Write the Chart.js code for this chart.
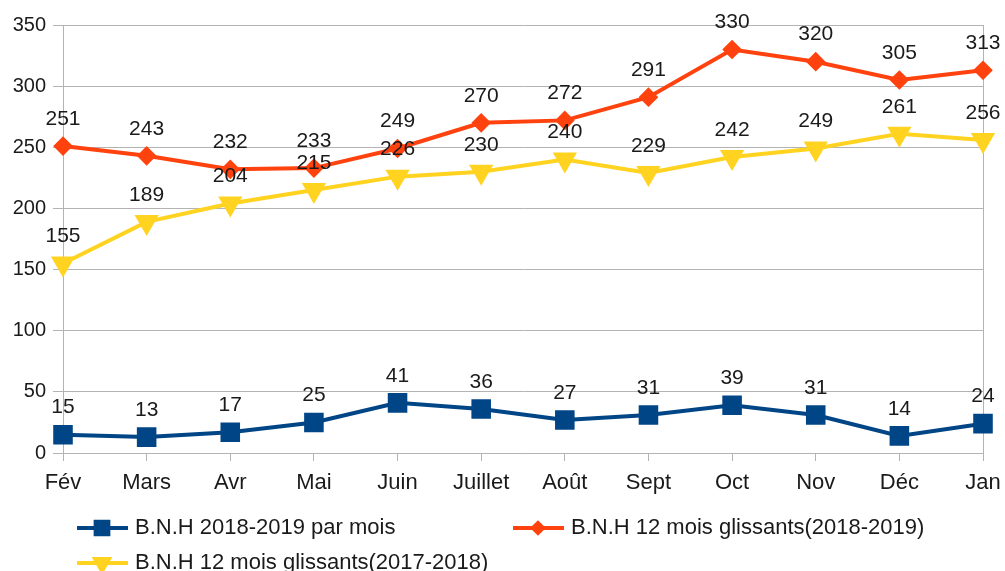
<!DOCTYPE html>
<html>
<head>
<meta charset="utf-8">
<script src="https://cdn.jsdelivr.net/npm/chart.js@4"></script>
<style>
  html, body { margin: 0; padding: 0; background: #fff; }
  #wrap { width: 1005px; height: 571px; }
</style>
</head>
<body>
<div id="wrap"><canvas id="myChart" width="1005" height="571"></canvas></div>
<script>
var months = ["Fév", "Mars", "Avr", "Mai", "Juin", "Juillet", "Août", "Sept", "Oct", "Nov", "Déc", "Jan"];
var bnhParMois = [15, 13, 17, 25, 41, 36, 27, 31, 39, 31, 14, 24];
var glissants1819 = [251, 243, 232, 233, 249, 270, 272, 291, 330, 320, 305, 313];
var glissants1718 = [155, 189, 204, 215, 226, 230, 240, 229, 242, 249, 261, 256];
var seriesNames = ["B.N.H 2018-2019 par mois", "B.N.H 12 mois glissants(2018-2019)", "B.N.H 12 mois glissants(2017-2018)"];

var FONT = "'Liberation Sans', Arial, sans-serif";
var TXT = '#1a1a1a';

// value labels above each point
var valueLabels = {
	id: 'valueLabels',
	afterDatasetsDraw: function(chart) {
		var ctx = chart.ctx;
		ctx.save();
		ctx.font = '21px ' + FONT;
		ctx.fillStyle = TXT;
		ctx.textAlign = 'center';
		ctx.textBaseline = 'middle';
		chart.data.datasets.forEach(function(ds, i) {
			chart.getDatasetMeta(i).data.forEach(function(pt, j) {
				ctx.fillText(ds.data[j], pt.x, pt.y - 27);
			});
		});
		ctx.restore();
	}
};

// right border + bottom legend in two columns
var frameAndLegend = {
	id: 'frameAndLegend',
	beforeDatasetsDraw: function(chart) {
		var a = chart.chartArea, ctx = chart.ctx;
		ctx.save();
		ctx.strokeStyle = '#b3b3b3';
		ctx.lineWidth = 1;
		ctx.beginPath();
		ctx.moveTo(Math.round(a.right) + 0.5, a.top);
		ctx.lineTo(Math.round(a.right) + 0.5, a.bottom);
		ctx.stroke();
		ctx.restore();
	},
	afterDraw: function(chart) {
		var ctx = chart.ctx;
		var spots = [[77, 528], [513, 528], [77, 563]];
		ctx.save();
		chart.data.datasets.forEach(function(ds, i) {
			var x = spots[i][0], y = spots[i][1];
			ctx.strokeStyle = ds.borderColor;
			ctx.lineWidth = 4;
			ctx.beginPath();
			ctx.moveTo(x, y);
			ctx.lineTo(x + 51, y);
			ctx.stroke();
			Chart.helpers.drawPoint(ctx, {
				pointStyle: ds.pointStyle,
				radius: ds.pointRadius - 2,
				rotation: ds.pointRotation || 0,
				borderWidth: 1
			}, x + 25, y);
			ctx.fillStyle = ds.borderColor;
			ctx.fill();
			ctx.fillStyle = TXT;
			ctx.font = '22px ' + FONT;
			ctx.textBaseline = 'middle';
			ctx.textAlign = 'left';
			ctx.fillText(ds.label, x + 58, y);
		});
		ctx.restore();
	}
};

var data = {
	labels: months,
	datasets: [
		{
			label: seriesNames[0],
			data: bnhParMois,
			borderColor: '#004586',
			backgroundColor: '#004586',
			borderWidth: 4,
			pointStyle: 'rect',
			pointRadius: 11,
			pointHoverRadius: 11
		},
		{
			label: seriesNames[1],
			data: glissants1819,
			borderColor: '#ff420e',
			backgroundColor: '#ff420e',
			borderWidth: 4,
			pointStyle: 'rectRot',
			pointRadius: 7,
			pointHoverRadius: 7
		},
		{
			label: seriesNames[2],
			data: glissants1718,
			borderColor: '#ffd320',
			backgroundColor: '#ffd320',
			borderWidth: 4,
			pointStyle: 'triangle',
			pointRotation: 180,
			pointRadius: 10,
			pointHoverRadius: 10
		}
	]
};

var ctx = document.getElementById("myChart").getContext("2d");

new Chart(ctx, {
	type: 'line',
	data: data,
	plugins: [valueLabels, frameAndLegend],
	options: {
		responsive: false,
		animation: false,
		layout: { padding: { top: 25, right: 22, bottom: 73, left: 0 } },
		plugins: {
			legend: { display: false },
			tooltip: { enabled: false }
		},
		scales: {
			x: {
				offset: false,
				grid: { drawOnChartArea: false, color: '#b3b3b3', tickLength: 8 },
				border: { display: true, color: '#b3b3b3' },
				ticks: { color: TXT, font: { family: FONT, size: 22 }, padding: 9, maxRotation: 0, autoSkip: false },
				afterFit: function(s) { s.height = 45; s.paddingRight = 0; }
			},
			y: {
				min: 0,
				max: 350,
				grid: { color: '#b3b3b3', tickLength: 10 },
				border: { display: true, color: '#b3b3b3' },
				ticks: { stepSize: 50, color: TXT, font: { family: FONT, size: 20 }, padding: 7 },
				afterFit: function(s) { s.width = 63; }
			}
		}
	}
});
</script>
</body>
</html>
